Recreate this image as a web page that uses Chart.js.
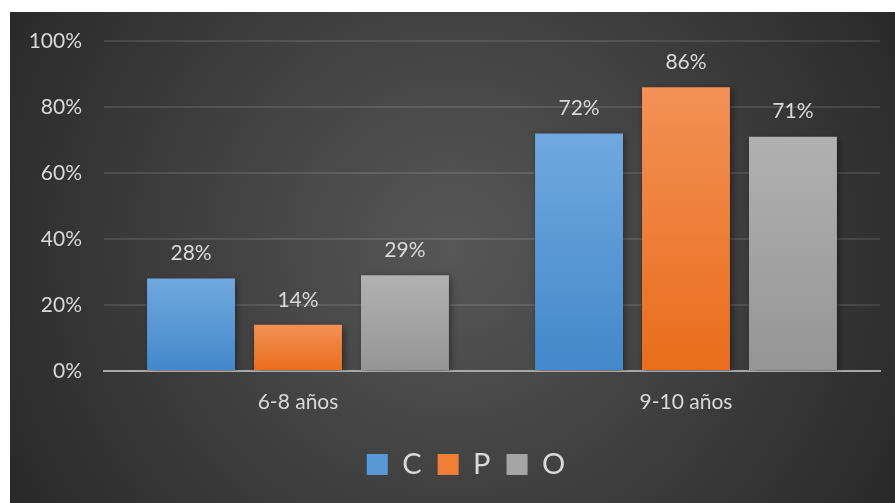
<!DOCTYPE html>
<html lang="es">
<head>
  <meta charset="UTF-8">
  <title>C P O por edad</title>
  <script src="https://cdn.jsdelivr.net/npm/chart.js@4/dist/chart.umd.min.js"></script>
  <style>
    html, body { margin: 0; padding: 0; background: #fff; }
    #wrap { position: absolute; left: 10px; top: 12px; width: 885px; height: 491px; }
  </style>
</head>
<body>
  <div id="wrap"><canvas id="grafica"></canvas></div>
  <script>
    // datos
    var categorias = ['6-8 años', '9-10 años'];
    var nombresSeries = ['C', 'P', 'O'];
    var serieC = [28, 72];
    var serieP = [14, 86];
    var serieO = [29, 71];
    var ejeMin = 0, ejeMax = 100, ejePaso = 20;

    var colores = {
      C: ['#70a8de', '#4288cb', '#5898d6'],
      P: ['#f39056', '#e96d1b', '#f07f35'],
      O: ['#b1b1b1', '#959595', '#a5a5a5']
    };
    var textoClaro = '#d9d9d9';
    var fuente = 'Lato, "Open Sans", sans-serif';

    // degradado vertical por barra, como en Excel
    function degradado(nombre) {
      return function(ctx) {
        var c = colores[nombre];
        var chart = ctx.chart;
        if (!chart.chartArea || ctx.dataIndex === undefined) return c[2];
        var y = chart.scales.y;
        var top = y.getPixelForValue(ctx.raw);
        var bottom = y.getPixelForValue(0);
        if (!isFinite(top) || top === bottom) return c[2];
        var g = chart.ctx.createLinearGradient(0, top, 0, bottom);
        g.addColorStop(0, c[0]);
        g.addColorStop(1, c[1]);
        return g;
      };
    }

    var fondo = {
      id: 'fondo',
      beforeDraw: function(chart) {
        var ctx = chart.ctx, w = chart.width, h = chart.height;
        ctx.save();
        var g = ctx.createRadialGradient(w * 0.5, h * 0.48, 0, w * 0.5, h * 0.48, w * 0.6);
        g.addColorStop(0, '#575757');
        g.addColorStop(1, '#272727');
        ctx.fillStyle = g;
        ctx.fillRect(0, 0, w, h);
        ctx.restore();
      }
    };

    // la leyenda del original esta algo corrida a la derecha
    var moverLeyenda = {
      id: 'moverLeyenda',
      afterLayout: function(chart) {
        chart.legend.left += 21;
        chart.legend.right += 21;
      }
    };

    var sombra = {
      id: 'sombra',
      beforeDatasetsDraw: function(chart) {
        var ctx = chart.ctx;
        ctx.save();
        ctx.shadowColor = 'rgba(0,0,0,0.45)';
        ctx.shadowBlur = 7;
        ctx.shadowOffsetX = 2;
        ctx.shadowOffsetY = 2;
      },
      afterDatasetsDraw: function(chart) {
        chart.ctx.restore();
      }
    };

    var etiquetas = {
      id: 'etiquetas',
      afterDraw: function(chart) {
        var ctx = chart.ctx;
        ctx.save();
        ctx.fillStyle = textoClaro;
        ctx.font = '21px ' + fuente;
        ctx.textAlign = 'center';
        ctx.textBaseline = 'middle';
        chart.data.datasets.forEach(function(ds, i) {
          chart.getDatasetMeta(i).data.forEach(function(bar, j) {
            ctx.fillText(ds.data[j] + '%', bar.x, bar.y - 25);
          });
        });
        ctx.restore();
      }
    };

    var series = [serieC, serieP, serieO];
    var datasets = nombresSeries.map(function(n, i) {
      return {
        label: n,
        data: series[i],
        backgroundColor: degradado(n),
        borderWidth: 0,
        categoryPercentage: 0.827,
        barPercentage: 0.822
      };
    });

    new Chart(document.getElementById('grafica'), {
      type: 'bar',
      data: { labels: categorias, datasets: datasets },
      plugins: [fondo, moverLeyenda, sombra, etiquetas],
      options: {
        responsive: true,
        maintainAspectRatio: false,
        animation: false,
        layout: { padding: { left: 0, right: 15, top: 29, bottom: 14 } },
        plugins: {
          tooltip: { enabled: false },
          legend: {
            position: 'bottom',
            labels: {
              color: textoClaro,
              font: { family: fuente, size: 29 },
              boxWidth: 21,
              boxHeight: 21,
              padding: 16,
              generateLabels: function(chart) {
                return nombresSeries.map(function(n, i) {
                  return {
                    text: n,
                    fillStyle: colores[n][2],
                    strokeStyle: colores[n][2],
                    lineWidth: 0,
                    fontColor: textoClaro,
                    datasetIndex: i
                  };
                });
              }
            }
          }
        },
        scales: {
          x: {
            grid: { display: false, drawTicks: false },
            border: { color: '#a8a8a8', width: 2 },
            ticks: { color: textoClaro, font: { family: fuente, size: 21 }, padding: 19 },
            afterFit: function(s) { s.height = 63; }
          },
          y: {
            min: ejeMin,
            max: ejeMax,
            grid: { color: 'rgba(255,255,255,0.11)', lineWidth: 2, drawTicks: false },
            border: { display: false },
            ticks: {
              stepSize: ejePaso,
              color: textoClaro,
              font: { family: fuente, size: 21 },
              padding: 22,
              callback: function(v) { return v + '%'; }
            },
            afterFit: function(s) {
              s.width = 94;
              s.paddingTop = 0;
              s.paddingBottom = 0;
            }
          }
        }
      }
    });
  </script>
</body>
</html>
